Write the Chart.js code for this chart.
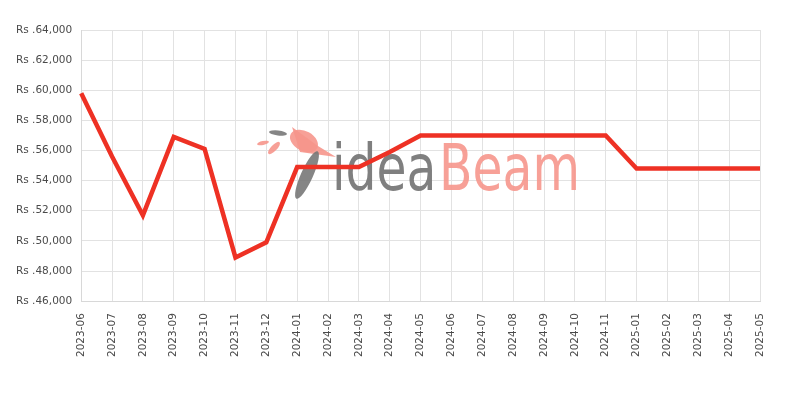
<!DOCTYPE html>
<html>
<head>
<meta charset="utf-8">
<script src="https://cdn.jsdelivr.net/npm/chart.js@4/dist/chart.umd.min.js"></script>
<style>
  html, body { margin: 0; padding: 0; background: #fff; }
  #wrap { width: 800px; height: 400px; position: relative; }
</style>
</head>
<body>
<div id="wrap"><canvas id="myChart1"></canvas></div>
<script>
// months on the x axis (2024-12 is not in the source data)
const months = ['2023-06', '2023-07', '2023-08', '2023-09', '2023-10', '2023-11', '2023-12',
    '2024-01', '2024-02', '2024-03', '2024-04', '2024-05', '2024-06', '2024-07', '2024-08',
    '2024-09', '2024-10', '2024-11', '2025-01', '2025-02', '2025-03', '2025-04', '2025-05'];

// price in Rs
const prices = [59800, 55600, 51700, 56900, 56100, 48900, 49900,
    54900, 54900, 54900, 55900, 57000, 57000, 57000, 57000,
    57000, 57000, 57000, 54800, 54800, 54800, 54800, 54800];

const y_min = 46000;
const y_max = 64000;
const y_step = 2000;

// logo watermark drawn behind the line
const watermark = {
    id: 'watermark',
    beforeDatasetsDraw(chart) {
        const ctx = chart.ctx;
        ctx.save();
        // bird, roughly
        ctx.fillStyle = 'rgba(246,150,140,0.9)';
        ctx.beginPath();
        ctx.ellipse(304, 141, 15, 10, 0.5, 0, Math.PI * 2);
        ctx.fill();
        ctx.beginPath();
        ctx.moveTo(292, 127); ctx.lineTo(300, 152); ctx.lineTo(336, 157); ctx.lineTo(318, 146);
        ctx.closePath();
        ctx.fill();
        ctx.beginPath();
        ctx.ellipse(263, 143, 6, 2, -0.2, 0, Math.PI * 2);
        ctx.fill();
        ctx.beginPath();
        ctx.ellipse(274, 148, 8, 3, -0.8, 0, Math.PI * 2);
        ctx.fill();
        ctx.fillStyle = 'rgba(120,120,120,0.9)';
        ctx.beginPath();
        ctx.ellipse(278, 133, 9, 2.5, 0.1, 0, Math.PI * 2);
        ctx.fill();
        ctx.beginPath();
        ctx.ellipse(307, 175, 26, 6, -1.15, 0, Math.PI * 2);
        ctx.fill();
        // text
        ctx.font = '64px "DejaVu Sans Condensed", "DejaVu Sans"';
        ctx.textBaseline = 'alphabetic';
        const w1 = ctx.measureText('idea').width;
        const w2 = ctx.measureText('Beam').width;
        const sx = 248 / (w1 + w2 + 3);
        ctx.translate(332, 190);
        ctx.scale(sx, 1);
        ctx.fillStyle = 'rgba(120,120,120,0.95)';
        ctx.fillText('idea', 0, 0);
        ctx.fillStyle = 'rgba(246,150,140,0.9)';
        ctx.fillText('Beam', w1 + 3, 0);
        ctx.restore();
    }
};

var ctx = document.getElementById('myChart1').getContext('2d');
var price_chart = new Chart(ctx, {
    type: 'line',
    data: {
        labels: months,
        datasets: [{
            label: 'Price',
            data: prices,
            fill: false,
            tension: 0,
            borderColor: '#ee3124',
            backgroundColor: '#ee3124',
            borderWidth: 4.5,
            pointRadius: 0
        }]
    },
    options: {
        responsive: true,
        maintainAspectRatio: false,
        animation: false,
        layout: {
            padding: { left: 7, right: 40, top: 30, bottom: 31 }
        },
        plugins: {
            legend: { display: false },
            tooltip: { enabled: false }
        },
        scales: {
            x: {
                grid: { color: '#e2e2e2', drawTicks: false },
                border: { color: '#d8d8d8' },
                ticks: {
                    color: '#4a4a4a',
                    font: { family: '"DejaVu Sans"', size: 10.5 },
                    maxRotation: 90,
                    minRotation: 90,
                    autoSkip: false,
                    padding: 12
                }
            },
            y: {
                min: y_min,
                max: y_max,
                grid: { color: '#e2e2e2', drawTicks: false },
                border: { color: '#d8d8d8' },
                ticks: {
                    stepSize: y_step,
                    color: '#4a4a4a',
                    font: { family: '"DejaVu Sans"', size: 10.5 },
                    padding: 9,
                    callback: v => 'Rs .' + v.toLocaleString('en-US')
                }
            }
        }
    },
    plugins: [watermark]
});
</script>
</body>
</html>
